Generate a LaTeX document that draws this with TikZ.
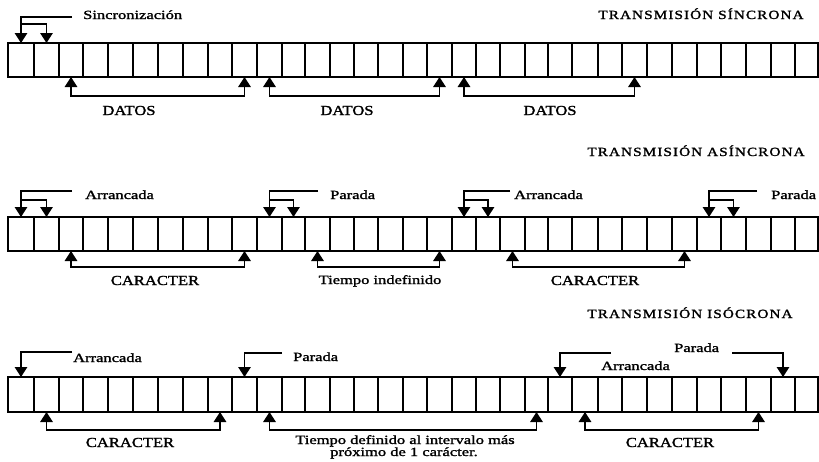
\documentclass[tikz,border=0pt]{standalone}
\usepackage{fontspec}
\setmainfont{Liberation Serif}
\usepackage{graphicx}
\usetikzlibrary{arrows.meta,calc}

% widened text as printed in the figure
\newcommand{\wlow}[1]{\scalebox{1.32}[1]{#1}}
\newcommand{\wcap}[1]{\scalebox{1.2}[1]{#1}}
\newcommand{\wtitle}[1]{\scalebox{1.22}[1]{\addfontfeature{LetterSpace=7}#1}}

\tikzset{
  cell/.style={draw, line width=1.6pt, inner sep=0pt, outer sep=0pt},
  tip/.tip={Triangle[width=12.5pt,length=10pt]},
  tipdown/.style={-tip, line width=1.4pt},
  bracket/.style={tip-tip, line width=1.4pt},
  lbl/.style={inner sep=0pt, font=\fontsize{12.5}{12.5}\selectfont\addfontfeature{FakeBold=1.4}},
  caplbl/.style={inner sep=0pt, font=\fontsize{13.8}{13.8}\selectfont\addfontfeature{FakeBold=1.4}},
  titlelbl/.style={inner sep=0pt, font=\fontsize{12.5}{12.5}\selectfont\addfontfeature{FakeBold=1.4}},
}

\begin{document}
\begin{tikzpicture}[x=1pt,y=-1pt]
\useasboundingbox (0,0) rectangle (819,461);

% cell boundaries of each frame (33 bits)
\def\cells{8/34,34/59,59/83,83/108,108/133,133/158,158/183,183/208,208/232,232/257,257/282,282/305,305/330,330/354,354/378,378/403,403/427,427/452,452/476,476/500,500/525,525/548,548/572,572/598,598/622,622/647,647/672,672/697,697/721,721/746,746/771,771/795,795/818}

\foreach \row/\yt/\yb in {1/43/77, 2/217/251, 3/377/412}{
  \foreach \a/\b [count=\k] in \cells {
    \pgfmathsetmacro\w{\b-\a}
    \pgfmathsetmacro\h{\yb-\yt}
    \node[cell, minimum width=\w pt, minimum height=\h pt] (r\row c\k) at ({(\a+\b)/2},{(\yt+\yb)/2}) {};
  }
}

% ---------- synchronous transmission ----------
\node[titlelbl, anchor=base] (t1) at (701,19) {\wtitle{TRANSMISIÓN SÍNCRONA}};
\node[lbl, anchor=base west] (sync) at (83,19) {\wlow{Sincronización}};
\coordinate (syncL) at (72,17);
\draw[tipdown] (syncL) -| (r1c1.north);
\draw[tipdown] (r1c1.north |- 0,24) -| (r1c2.north);

\draw[bracket] (r1c3.south) -- (r1c3.south |- 0,96) -| (r1c10.south);
\draw[bracket] (r1c11.south) -- (r1c11.south |- 0,96) -| (r1c18.south);
\draw[bracket] (r1c19.south) -- (r1c19.south |- 0,96) -| (r1c26.south);
\node[caplbl, anchor=base] (d1) at (129,115) {\wcap{DATOS}};
\node[caplbl, anchor=base] (d2) at (347,115) {\wcap{DATOS}};
\node[caplbl, anchor=base] (d3) at (550,115) {\wcap{DATOS}};

% ---------- asynchronous transmission ----------
\node[titlelbl, anchor=base] (t2) at (696,156) {\wtitle{TRANSMISIÓN ASÍNCRONA}};

\node[lbl, anchor=base west] (a1) at (85,199) {\wlow{Arrancada}};
\coordinate (a1L) at (72,191);
\draw[tipdown] (a1L) -| (r2c1.north);
\draw[tipdown] (r2c1.north |- 0,200) -| (r2c2.north);

\node[lbl, anchor=base west] (p1) at (330,199) {\wlow{Parada}};
\coordinate (p1L) at (318,191);
\draw[tipdown] (p1L) -| (r2c11.north);
\draw[tipdown] (r2c11.north |- 0,200) -| (r2c12.north);

\node[lbl, anchor=base west] (a2) at (514,199) {\wlow{Arrancada}};
\coordinate (a2L) at (510,191);
\draw[tipdown] (a2L) -| (r2c19.north);
\draw[tipdown] (r2c19.north |- 0,200) -| (r2c20.north);

\node[lbl, anchor=base west] (p2) at (771,199) {\wlow{Parada}};
\coordinate (p2L) at (757,191);
\draw[tipdown] (p2L) -| (r2c29.north);
\draw[tipdown] (r2c29.north |- 0,200) -| (r2c30.north);

\draw[bracket] (r2c3.south) -- (r2c3.south |- 0,267) -| (r2c10.south);
\draw[bracket] (r2c13.south) -- (r2c13.south |- 0,267) -| (r2c18.south);
\draw[bracket] (r2c21.south) -- (r2c21.south |- 0,267) -| (r2c28.south);
\node[caplbl, anchor=base] (c1) at (155,285) {\wcap{CARACTER}};
\node[lbl, anchor=base] (ti) at (380,284) {\wlow{Tiempo indefinido}};
\node[caplbl, anchor=base] (c2) at (595,285) {\wcap{CARACTER}};

% ---------- isochronous transmission ----------
\node[titlelbl, anchor=base] (t3) at (690,318) {\wtitle{TRANSMISIÓN ISÓCRONA}};

\node[lbl, anchor=base west] (ia1) at (73,362) {\wlow{Arrancada}};
\coordinate (ia1L) at (72,352);
\draw[tipdown] (ia1L) -| (r3c1.north);

\node[lbl, anchor=base west] (ip1) at (293,361) {\wlow{Parada}};
\coordinate (ip1L) at (282,353);
\draw[tipdown] (ip1L) -| (r3c10.north);

\node[lbl, anchor=base west] (ia2) at (601,370) {\wlow{Arrancada}};
\coordinate (ia2L) at (611,353);
\draw[tipdown] (ia2L) -| (r3c23.north);

\node[lbl, anchor=base west] (ip2) at (674,352) {\wlow{Parada}};
\coordinate (ip2L) at (732,353);
\draw[tipdown] (ip2L) -| (r3c32.north);

\draw[bracket] (r3c2.south) -- (r3c2.south |- 0,430) -| (r3c9.south);
\draw[bracket] (r3c11.south) -- (r3c11.south |- 0,430) -| (r3c22.south);
\draw[bracket] (r3c24.south) -- (r3c24.south |- 0,430) -| (r3c31.south);
\node[caplbl, anchor=base] (ic1) at (130,447) {\wcap{CARACTER}};
\node[lbl, anchor=base] (td1) at (405,444) {\wlow{Tiempo definido al intervalo más}};
\node[lbl, anchor=base] (td2) at (404,456) {\wlow{próximo de 1 carácter.}};
\node[caplbl, anchor=base] (ic2) at (670,447) {\wcap{CARACTER}};

\end{tikzpicture}
\end{document}
